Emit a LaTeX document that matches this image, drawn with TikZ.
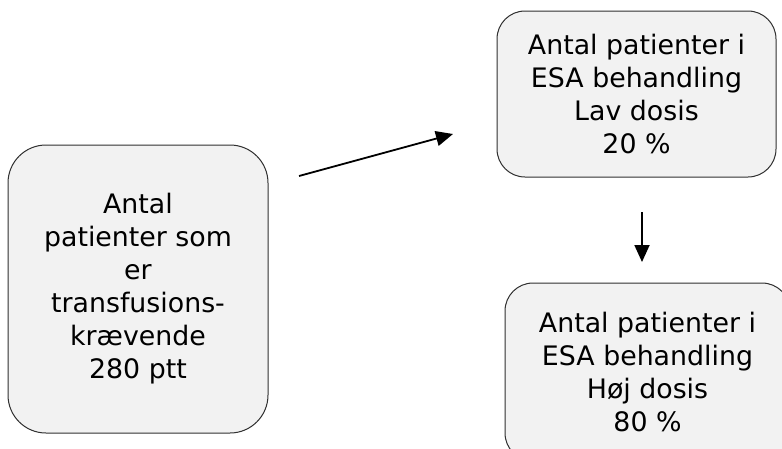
\documentclass[tikz,border=0pt]{standalone}
\usepackage{fontspec}
\setmainfont{DejaVu Sans}
\usetikzlibrary{arrows.meta}
\definecolor{boxfill}{HTML}{F2F2F2}
\definecolor{boxline}{HTML}{303030}
\begin{document}
\begin{tikzpicture}[x=1pt,y=-1pt,
  box/.style={draw=boxline, fill=boxfill, line width=1pt, align=center,
    inner sep=0pt, font=\fontsize{26.8}{33}\selectfont},
  conn/.style={line width=1.8pt, -{Triangle[length=17pt,width=15pt]}}]
\clip (0,0) rectangle (782,448);
\node[box, minimum width=260pt, minimum height=288pt, rounded corners=38pt]
  (total) at (138,289) {Antal\\patienter som\\er\\transfusions-\\krævende\\280 ptt};
\node[box, minimum width=279pt, minimum height=166pt, rounded corners=28pt]
  (low) at (636.5,94) {Antal patienter i\\ESA behandling\\Lav dosis\\20 \%};
\node[box, minimum width=285pt, minimum height=178pt, rounded corners=28pt]
  (high) at (647.5,372) {Antal patienter i\\ESA behandling\\Høj dosis\\80 \%};
\coordinate (a1s) at (299,176);
\coordinate (a1e) at (453,134);
\coordinate (a2s) at (642,212);
\coordinate (a2e) at (642,262);
\draw[conn] (a1s) -- (a1e);
\draw[conn] (a2s) -- (a2e);
\end{tikzpicture}
\end{document}
